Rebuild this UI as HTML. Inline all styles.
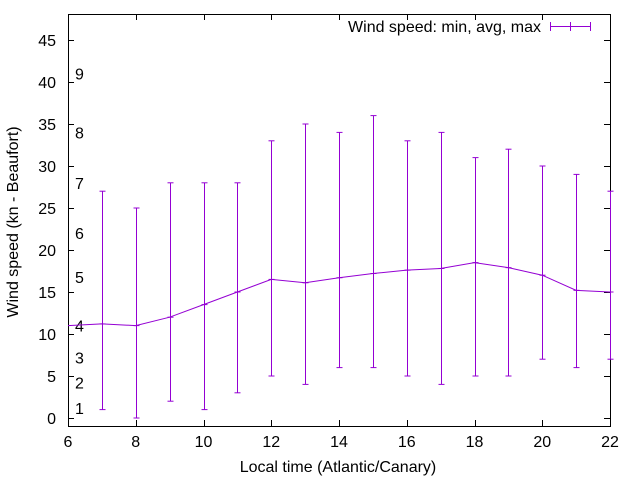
<!DOCTYPE html>
<html><head><meta charset="utf-8"><style>
body{margin:0;background:#fff;width:640px;height:480px;overflow:hidden}
svg text{font-family:"Liberation Sans",sans-serif;font-size:16px;fill:#000}
</style></head><body>
<svg id="chart" width="640" height="480">
<rect x="68.5" y="14.5" width="542" height="412" fill="none" stroke="#000"/>
<g id="axes"></g>
<g id="beaufort"></g>
<g id="series"></g>
<text x="338" y="472" text-anchor="middle">Local time (Atlantic/Canary)</text>
<text transform="translate(18,222) rotate(-90)" text-anchor="middle">Wind speed (kn - Beaufort)</text>
<g>
<text x="541" y="32" text-anchor="end">Wind speed: min, avg, max</text>
<line x1="550" y1="26.5" x2="590" y2="26.5" stroke="#9400d3"/>
<line x1="550.5" y1="22" x2="550.5" y2="31" stroke="#9400d3"/>
<line x1="570.5" y1="22" x2="570.5" y2="31" stroke="#9400d3"/>
<line x1="590.5" y1="22" x2="590.5" y2="31" stroke="#9400d3"/>
</g>
</svg>
<script>
const hours=[6,7,8,9,10,11,12,13,14,15,16,17,18,19,20,21,22];
const avgs=[11,11.2,11,12,13.5,15,16.5,16.1,16.7,17.2,17.6,17.8,18.5,17.9,17,15.2,15];
const mins=[null,1,0,2,1,3,5,4,6,6,5,4,5,5,7,6,7];
const maxs=[null,27,25,28,28,28,33,35,34,36,33,34,31,32,30,29,27];
const xTicks=[6,8,10,12,14,16,18,20,22];
const yTicks=[0,5,10,15,20,25,30,35,40,45];
const bftLabels=["1","2","3","4","5","6","7","8","9"];
const bftValues=[1.2,4.2,7.2,11,16.8,22,28,34,41];
const NS="http://www.w3.org/2000/svg";
const X=v=>68+(v-6)*(542/16);
const Y=v=>418-v*8.4;
function mk(t,a,p){const e=document.createElementNS(NS,t);for(const k in a)e.setAttribute(k,a[k]);p.appendChild(e);return e;}
const ax=document.getElementById('axes');
xTicks.forEach(t=>{const x=Math.round(X(t))+0.5;
 const l=mk('line',{x1:x,y1:426,x2:x,y2:420,stroke:'#000'},ax);
 
 
 const l2=mk('line',{x1:x,y1:14,x2:x,y2:20,stroke:'#000'},ax);
 
 
 const tx=mk('text',{x:X(t),y:447,'text-anchor':'middle'},ax);tx.textContent=t;
 
 });
yTicks.forEach(t=>{const y=Math.round(Y(t))+0.5;
 const l=mk('line',{x1:68,y1:y,x2:74,y2:y,stroke:'#000'},ax);
 
 
 const l2=mk('line',{x1:604,y1:y,x2:610,y2:y,stroke:'#000'},ax);
 
 
 const tx=mk('text',{x:56,y:Y(t)+6,'text-anchor':'end'},ax);tx.textContent=t;
 
 });
const bf=document.getElementById('beaufort');
bftLabels.forEach((s,i)=>{const tx=mk('text',{x:75,y:Y(bftValues[i])+6},bf);tx.textContent=s;
 
 });
const sr=document.getElementById('series');
const pts=hours.map((h,i)=>X(h)+','+Y(avgs[i])).join(' ');
const pl=mk('polyline',{points:pts,fill:'none',stroke:'#9400d3'},sr);


hours.forEach((h,i)=>{if(mins[i]===null)return;const x=Math.round(X(h))+0.5;
 const g=mk('g',{stroke:'#9400d3'},sr);
 
 
 mk('line',{x1:x,y1:Y(mins[i]),x2:x,y2:Y(maxs[i])},g);
 mk('line',{x1:x-3,y1:Y(mins[i]),x2:x+3,y2:Y(mins[i])},g);
 mk('line',{x1:x-3,y1:Y(maxs[i]),x2:x+3,y2:Y(maxs[i])},g);
 mk('line',{x1:x-3,y1:Y(avgs[i]),x2:x+3,y2:Y(avgs[i])},g);});
</script>
</body></html>
